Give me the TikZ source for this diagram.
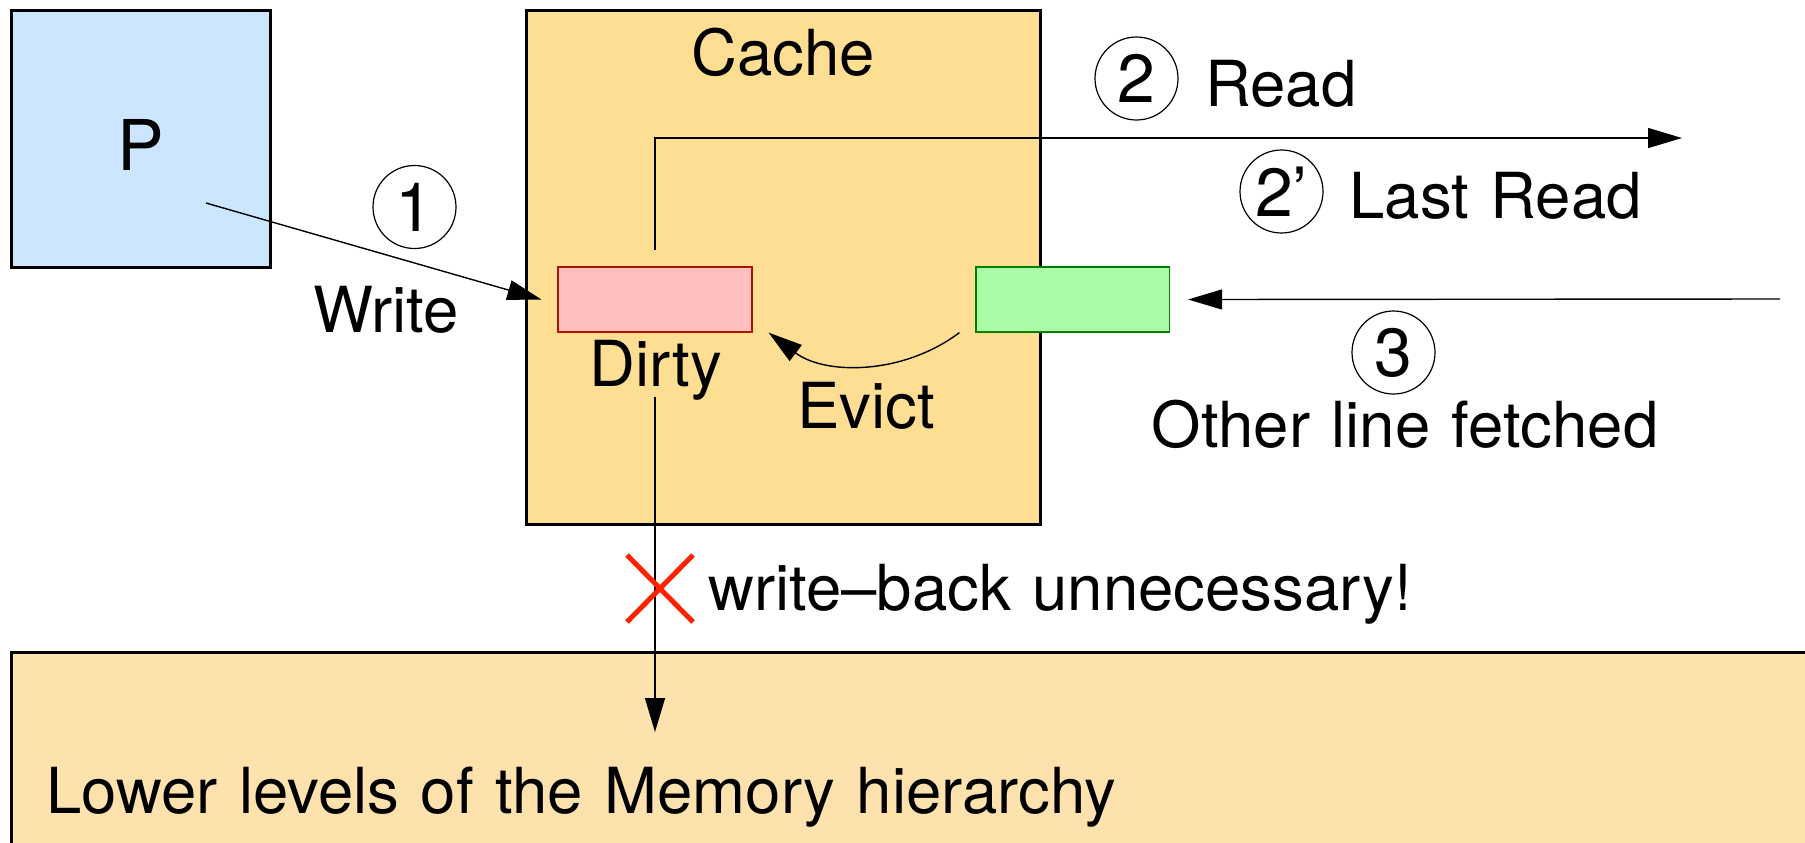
\documentclass[tikz,border=0pt]{standalone}
\usepackage{fontspec}
\setmainfont{TeX Gyre Heros}
\usetikzlibrary{arrows.meta}

\definecolor{procblue}{RGB}{204,230,255}
\definecolor{cachefill}{RGB}{254,222,146}
\definecolor{memfill}{RGB}{253,226,174}
\definecolor{dirtyfill}{RGB}{255,191,191}
\definecolor{dirtyline}{RGB}{170,20,0}
\definecolor{cleanfill}{RGB}{170,252,168}
\definecolor{cleanline}{RGB}{0,128,0}
\definecolor{crossred}{RGB}{255,34,0}

% label font with slightly wider word spaces
\newcommand{\labelfont}{\fontsize{31.75}{38}\selectfont\spaceskip=10.7pt\relax}

\tikzset{
  bigbox/.style={draw=black, line width=1.5pt, rectangle, inner sep=0pt},
  linebox/.style={rectangle, line width=0.6pt, inner sep=0pt,
    minimum width=97pt, minimum height=32.5pt},
  txt/.style={inner sep=0pt, font=\labelfont},
  stepnum/.style={draw=black, line width=0.6pt, circle, inner sep=0pt,
    minimum size=41.5pt, font=\fontsize{34}{40}\selectfont},
  conn/.style={draw=black, line width=0.7pt},
  arr/.style={conn, -{Triangle[length=17pt, width=10pt]}},
}

\begin{document}
\begin{tikzpicture}[x=0.5pt, y=-0.5pt]
  \clip (0,0) rectangle (1805,842);
  \fill[white] (0,0) rectangle (1805,842);

  % processor, cache and the lower memory levels
  \node[bigbox, fill=procblue, minimum width=129.25pt, minimum height=128.5pt]
    (P) at (140.75,138.5) {};
  \node[txt, anchor=base, font=\fontsize{35}{42}\selectfont] (Plabel) at (141,170) {P};

  \node[bigbox, fill=cachefill, minimum width=256.75pt, minimum height=257pt]
    (cache) at (783.25,267) {};
  \node[txt, anchor=base] (cachelabel) at (783,75) {Cache};

  \node[bigbox, fill=memfill, minimum width=909.25pt, minimum height=114pt]
    (mem) at (920.75,766) {};
  \node[txt, anchor=base west] (memlabel) at (46,813) {Lower levels of the Memory hierarchy};

  % cache lines
  \node[linebox, fill=dirtyfill, draw=dirtyline] (dirty) at (655,299.5) {};
  \node[linebox, fill=cleanfill, draw=cleanline, minimum width=96.75pt] (clean) at (1072.75,299.5) {};
  \node[txt, anchor=base] (dirtylabel) at (656,386) {Dirty};

  % free ends of the connectors
  \coordinate (wstart) at (206,203);
  \coordinate (readend) at (1682,138);
  \coordinate (fetchstart) at (1780,299);
  \coordinate (wbend) at (655,732);

  % 1: write from the processor
  \draw[arr] (wstart) -- ([xshift=-8pt]dirty.west);
  \node[stepnum] (s1) at (414.5,207) {1};
  \node[txt, anchor=base west] (writelabel) at (313,332) {Write};

  % 2 / 2': reads of the dirty line
  \draw[arr] ([yshift=8pt]dirty.north) |- (readend);
  \node[stepnum] (s2) at (1136.5,78.5) {2};
  \node[txt, anchor=base west] (readlabel) at (1205,106) {Read};
  \node[stepnum] (s2b) at (1281.5,191.5) {2’};
  \node[txt, anchor=base west] (lastlabel) at (1349,218) {Last Read};

  % 3: another line is fetched and evicts the dirty one
  \draw[arr] (fetchstart) -- ([xshift=9pt]clean.east);
  \node[stepnum] (s3) at (1393.5,352.5) {3};
  \node[txt, anchor=base] (fetchlabel) at (1405,447) {Other line fetched};

  \draw[arr] ([xshift=-8pt]clean.south west)
    .. controls +(-56.5,42.6) and +(56.5,42.6) .. ([xshift=8pt]dirty.south east);
  \node[txt, anchor=base] (evictlabel) at (866,428) {Evict};

  % write-back that never has to happen
  \draw[arr] ([yshift=-32pt]dirty.south) -- (wbend);
  \draw[crossred, line width=2.5pt] (627,555) -- (693,622) (627,622) -- (693,555);
  \node[txt, anchor=base west] (wblabel) at (708,610) {write–back unnecessary!};
\end{tikzpicture}
\end{document}
